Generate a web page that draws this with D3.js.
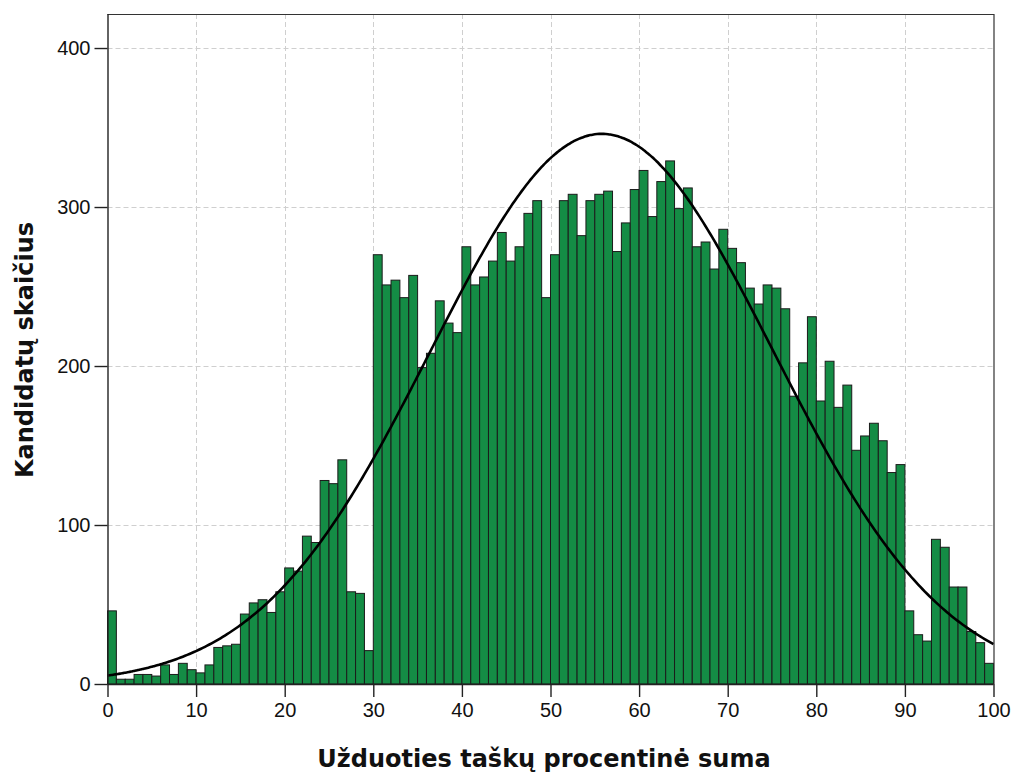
<!DOCTYPE html>
<html>
<head>
<meta charset="utf-8">
<script src="https://cdn.jsdelivr.net/npm/d3@7/dist/d3.min.js"></script>
<style>
  html, body { margin: 0; padding: 0; background: #fff; }
  svg { display: block; }
</style>
</head>
<body>
<svg id="chart" width="1013" height="774"></svg>
<script>
// ---- data ----
const binStarts = d3.range(0, 100, 1);           // bins of width 1, from 0 to 100
const counts = [
  46, 3, 3, 6, 6, 5, 12, 6, 13, 9,
  7, 12, 23, 24, 25, 44, 51, 53, 45, 58,
  73, 71, 93, 89, 128, 126, 141, 58, 57, 21,
  270, 251, 254, 243, 257, 199, 208, 241, 227, 221,
  275, 251, 256, 266, 284, 266, 275, 296, 304, 243,
  270, 304, 308, 282, 304, 308, 310, 272, 290, 311,
  323, 294, 316, 329, 299, 312, 275, 278, 261, 286,
  274, 265, 249, 239, 251, 249, 236, 181, 202, 231,
  178, 203, 174, 188, 147, 156, 164, 153, 133, 138,
  46, 31, 27, 91, 86, 61, 61, 33, 26, 13
];
const xTicks = [0, 10, 20, 30, 40, 50, 60, 70, 80, 90, 100];
const yTicks = [0, 100, 200, 300, 400];
// fitted normal curve parameters
const normalMean = 55.8;
const normalSd = 19.3;
const normalN = 16740;
const binWidth = 1;

const xTitle = "Užduoties taškų procentinė suma";
const yTitle = "Kandidatų skaičius";

// ---- layout ----
const pL = 107.5, pR = 993.5, pT = 14, pB = 684;
const svg = d3.select("#chart");

const x = d3.scaleLinear().domain([0, 100]).range([pL, pR]);
const y = d3.scaleLinear().domain([0, 421.4]).range([pB, pT]);

// grid
const grid = svg.append("g").attr("stroke", "#cfcfcf").attr("stroke-width", 1)
  .attr("stroke-dasharray", "5,3").attr("fill", "none");
grid.selectAll("line.v").data(xTicks.filter(d => d > 0 && d < 100)).join("line")
  .attr("class", "v")
  .attr("x1", d => Math.round(x(d)) + 0.5).attr("x2", d => Math.round(x(d)) + 0.5)
  .attr("y1", pT).attr("y2", pB);
grid.selectAll("line.h").data(yTicks.filter(d => d > 0)).join("line")
  .attr("class", "h")
  .attr("y1", d => Math.round(y(d)) + 0.5).attr("y2", d => Math.round(y(d)) + 0.5)
  .attr("x1", pL).attr("x2", pR);

// bars
svg.append("g").selectAll("rect").data(counts).join("rect")
  .attr("x", (d, i) => x(binStarts[i]))
  .attr("width", (d, i) => x(binStarts[i] + binWidth) - x(binStarts[i]))
  .attr("y", d => y(d))
  .attr("height", d => y(0) - y(d))
  .attr("fill", "#148c45")
  .attr("stroke", "#1b1b1b")
  .attr("stroke-width", 1);

// normal curve
const curvePts = d3.range(0, 100.01, 0.25).map(v => [
  v,
  normalN * binWidth / (normalSd * Math.sqrt(2 * Math.PI)) *
    Math.exp(-((v - normalMean) ** 2) / (2 * normalSd * normalSd))
]);
svg.append("path").datum(curvePts)
  .attr("fill", "none").attr("stroke", "#000").attr("stroke-width", 2.6)
  .attr("d", d3.line().x(d => x(d[0])).y(d => y(d[1])).curve(d3.curveBasis));

// frame (top & right)
svg.append("path")
  .attr("d", `M${pL},${pT + 0.5}H${pR + 0.5}V${pB}`)
  .attr("fill", "none").attr("stroke", "#333").attr("stroke-width", 1.2);

// axes
const xAxis = svg.append("g").attr("transform", `translate(0,${pB})`)
  .call(d3.axisBottom(x).tickValues(xTicks).tickSize(13).tickPadding(6).tickSizeOuter(0));
const yAxis = svg.append("g").attr("transform", `translate(${pL},0)`)
  .call(d3.axisLeft(y).tickValues(yTicks).tickSize(13).tickPadding(4).tickSizeOuter(0));
[xAxis, yAxis].forEach(g => {
  g.select(".domain").attr("stroke", "#222").attr("stroke-width", 1.4);
  g.selectAll(".tick line").attr("stroke", "#222").attr("stroke-width", 1.4);
  g.selectAll(".tick text").attr("fill", "#111")
    .style("font-family", "'Liberation Sans', Arial, sans-serif").style("font-size", "20px");
});
xAxis.select(".domain").attr("d", `M${pL},0.5H${pR}`);
yAxis.select(".domain").attr("d", `M0.5,${pT}V${pB}`);

// titles
svg.append("text").text(xTitle)
  .attr("x", 544).attr("y", 767).attr("text-anchor", "middle")
  .style("font-family", "'DejaVu Sans', Verdana, sans-serif").style("font-weight", "bold")
  .style("font-size", "24px").attr("fill", "#111");
svg.append("text").text(yTitle)
  .attr("transform", "translate(33,350) rotate(-90)").attr("text-anchor", "middle")
  .style("font-family", "'DejaVu Sans', Verdana, sans-serif").style("font-weight", "bold")
  .style("font-size", "24px").attr("fill", "#111");
</script>
</body>
</html>
